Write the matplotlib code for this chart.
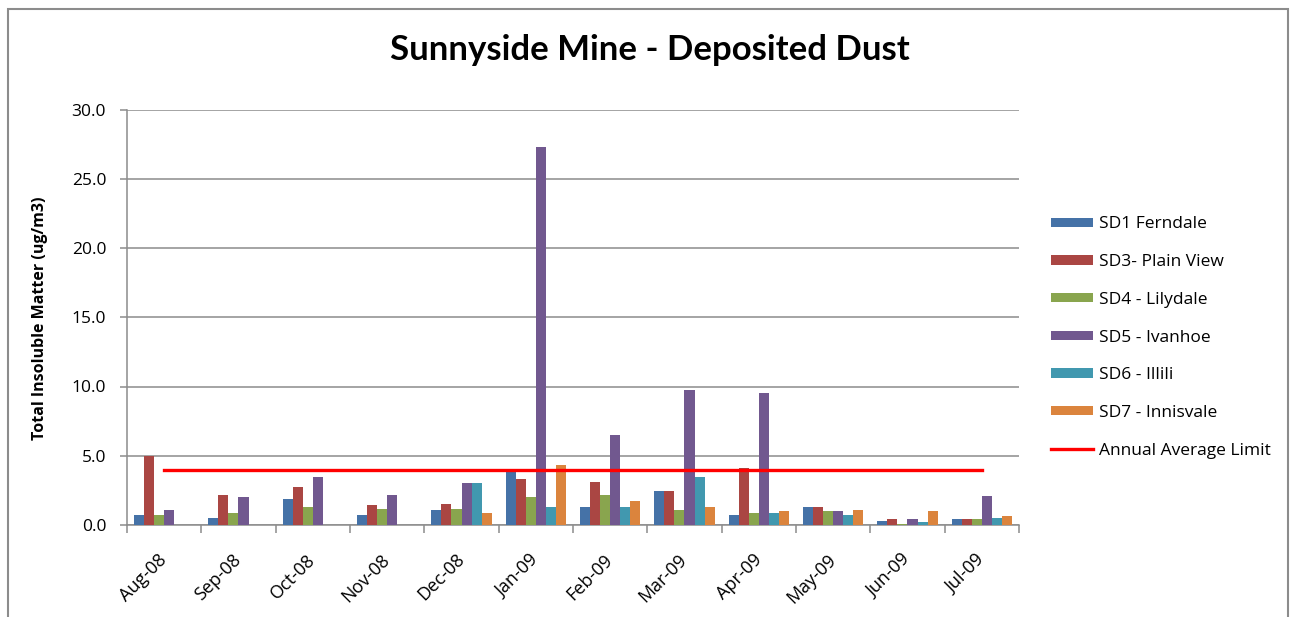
import matplotlib
matplotlib.use("Agg")
import matplotlib.pyplot as plt
import matplotlib.transforms as mtrans
import numpy as np
from matplotlib.patches import Rectangle

plt.rcParams['font.family'] = ['Open Sans', 'DejaVu Sans']

# ---------------- data ----------------
months = ["Aug-08", "Sep-08", "Oct-08", "Nov-08", "Dec-08", "Jan-09",
          "Feb-09", "Mar-09", "Apr-09", "May-09", "Jun-09", "Jul-09"]
nan = np.nan
sd1_ferndale = [0.75, 0.53, 1.9, 0.75, 1.1, 3.85, 1.32, 2.47, 0.75, 1.32, 0.31, 0.46]
sd3_plain_view = [5.0, 2.2, 2.75, 1.47, 1.54, 3.35, 3.13, 2.47, 4.1, 1.32, 0.46, 0.46]
sd4_lilydale = [0.7, 0.9, 1.32, 1.18, 1.18, 2.05, 2.2, 1.1, 0.89, 1.03, 0.1, 0.46]
sd5_ivanhoe = [1.1, 2.05, 3.5, 2.2, 3.0, 27.3, 6.5, 9.75, 9.53, 1.03, 0.46, 2.1]
sd6_illili = [nan, nan, nan, nan, 3.0, 1.32, 1.32, 3.5, 0.89, 0.75, 0.24, 0.53]
sd7_innisvale = [nan, nan, nan, nan, 0.89, 4.3, 1.76, 1.32, 1.03, 1.1, 1.03, 0.67]
annual_limit = [4.0] * len(months)

series_names = ["SD1 Ferndale", "SD3- Plain View", "SD4 - Lilydale",
                "SD5 - Ivanhoe", "SD6 - Illili", "SD7 - Innisvale"]
series = [sd1_ferndale, sd3_plain_view, sd4_lilydale,
          sd5_ivanhoe, sd6_illili, sd7_innisvale]
colors = ["#4572A7", "#AA4643", "#89A54E", "#71588F", "#4198AF", "#DB843D"]

# ---------------- figure ----------------
W, H = 1293, 617
fig = plt.figure(figsize=(W / 100, H / 100), dpi=100)
ax = fig.add_axes([127 / W, 1 - 525 / H, (1019 - 127) / W, (525 - 109.5) / H])

# outer chart border
fig.patches.append(Rectangle((8 / W, -0.1), (1288 - 8) / W, 1.1 - 9 / H,
                             transform=fig.transFigure, fill=False,
                             edgecolor="#8c8c8c", lw=1.5))

x = np.arange(len(months))
bw = 0.1346
for i, (vals, name, c) in enumerate(zip(series, series_names, colors)):
    ax.bar(x + (i - 2.5) * bw, vals, width=bw, color=c, label=name, zorder=3)

ax.plot(x, annual_limit, color="#FF0000", lw=2.4, zorder=4,
        label="Annual Average Limit")

ax.set_xlim(-0.5, len(months) - 0.5)
ax.set_ylim(0, 30)
ax.set_yticks(np.arange(0, 31, 5))
ax.set_yticklabels([f"{v:.1f}" for v in np.arange(0, 31, 5)], fontsize=12.5)
ax.yaxis.grid(True, color="#8c8c8c", lw=1.1, zorder=0)

ax.set_xticks(x)
ax.set_xticklabels(months, fontsize=13, rotation=45, ha="right",
                   va="center", rotation_mode="anchor")
shift = mtrans.ScaledTranslation(-6 / 100, 0, fig.dpi_scale_trans)
for lab in ax.get_xticklabels():
    lab.set_transform(lab.get_transform() + shift)
ax.set_xticks(np.arange(-0.5, len(months), 1), minor=True)
ax.tick_params(axis="x", which="major", length=0, pad=23)
ax.tick_params(axis="x", which="minor", length=6, color="#8c8c8c", width=1.1)
ax.tick_params(axis="y", length=5, color="#8c8c8c", width=1.1, pad=10)

for s in ["top", "right"]:
    ax.spines[s].set_visible(False)
for s in ["left", "bottom"]:
    ax.spines[s].set_color("#8c8c8c")
    ax.spines[s].set_linewidth(1.1)

fig.text(650 / W, 1 - 50 / H, "Sunnyside Mine - Deposited Dust",
         fontsize=25, fontweight="bold", family=["Lato", "DejaVu Sans"],
         ha="center", va="center")
fig.text(40 / W, 1 - 318 / H, "Total Insoluble Matter (ug/m3)",
         fontsize=11.5, fontweight="bold", rotation=90,
         ha="center", va="center")

handles, labels = ax.get_legend_handles_labels()
handles = handles[1:] + handles[:1]
labels = labels[1:] + labels[:1]
ax.legend(handles, labels, loc="center left",
          bbox_to_anchor=(1051 / W, 1 - 337.5 / H),
          bbox_transform=fig.transFigure, frameon=False, fontsize=12.5,
          handlelength=2.4, handleheight=0.45, handletextpad=0.35,
          labelspacing=1.25, borderpad=0, borderaxespad=0)

fig.savefig("out.png", dpi=100)
